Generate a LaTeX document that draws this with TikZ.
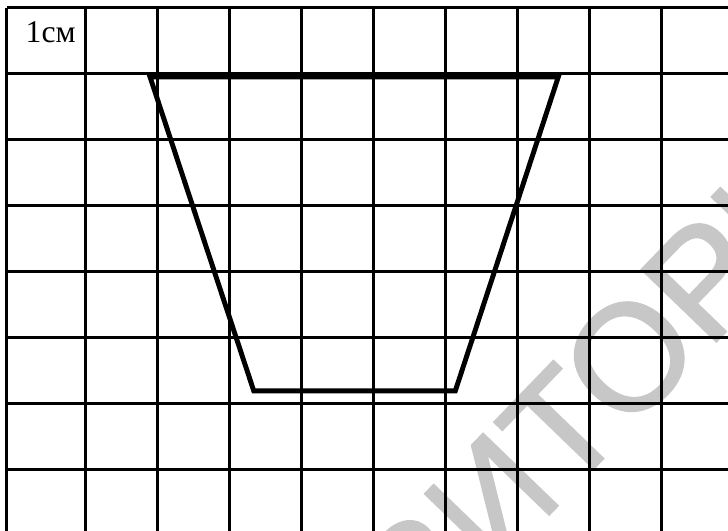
\documentclass[tikz,border=0pt]{standalone}
\usepackage{fontspec}
\setmainfont{Liberation Serif}
\newfontfamily\wmfont[FakeBold=1.2]{Liberation Sans}
\usetikzlibrary{positioning}
\tikzset{
    gridline/.style={line width=0.85pt},
    figline/.style={line width=1.4pt,line join=miter},
    watermark/.style={text=black!22,font=\wmfont\fontsize{43}{43}\selectfont,inner sep=0pt,rotate=46}
}

\begin{document}
\begin{tikzpicture}[x=0.72cm,y=-0.66cm]
    \useasboundingbox (-0.194,-0.121) rectangle (9.917,7.924);
    % watermark behind the grid
    \node[watermark,anchor=base east] (wmark) at (7.68,7.40) {РЕПОЗИ\rlap{ТОРИЙ}};
    % grid
    \draw[gridline] (-0.097,0) -- (-0.097,8);
    \foreach \x in {1,...,10}
        \draw[gridline] (\x,0) -- (\x,8);
    \foreach \y in {0,...,8}
        \draw[gridline] (-0.097,\y) -- (10,\y);
    \node[anchor=base west,inner sep=0pt,font=\fontsize{9}{9}\selectfont] (unit) at (0.153,0.53) {1см};
    % trapezoid
    \coordinate (tl) at (1.89,1.045);
    \coordinate (tr) at (7.56,1.045);
    \coordinate (br) at (6.13,5.80);
    \coordinate (bl) at (3.33,5.80);
    \draw[figline] (tl) -- (tr) -- (br) -- (bl) -- cycle;
\end{tikzpicture}
\end{document}
